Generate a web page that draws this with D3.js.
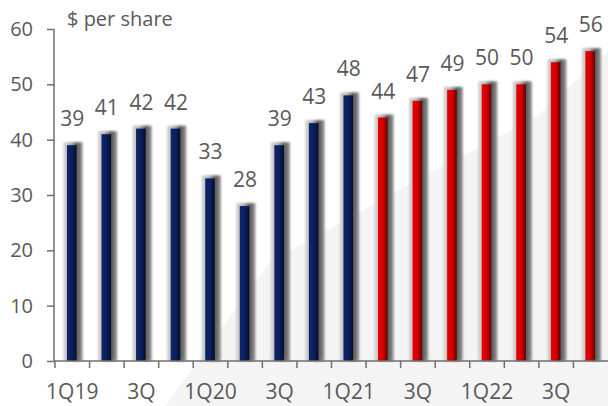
<!DOCTYPE html>
<html>
<head>
<meta charset="utf-8">
<script src="https://cdn.jsdelivr.net/npm/d3@7"></script>
<style>
  html, body { margin: 0; padding: 0; background: #ffffff; }
  svg { display: block; }
  text { font-family: "Open Sans", sans-serif; fill: #595959; }
</style>
</head>
<body>
<div id="chart"></div>
<script>
// Quarterly values, $ per share
const quarters = ["1Q19","2Q19","3Q19","4Q19","1Q20","2Q20","3Q20","4Q20",
                  "1Q21","2Q21","3Q21","4Q21","1Q22","2Q22","3Q22","4Q22"];
const values = [39, 41, 42, 42, 33, 28, 39, 43, 48, 44, 47, 49, 50, 50, 54, 56];
// Bars from this index on are drawn in red
const splitIndex = 9;
// Every other quarter is labelled on the axis
const xTickLabels = { "1Q19": "1Q19", "3Q19": "3Q", "1Q20": "1Q20", "3Q20": "3Q",
                      "1Q21": "1Q21", "3Q21": "3Q", "1Q22": "1Q22", "3Q22": "3Q" };
const yTicks = [0, 10, 20, 30, 40, 50, 60];
const unitLabel = "$ per share";

const W = 608, H = 406;
const margin = { top: 29, right: 0, bottom: 45, left: 55 };

const svg = d3.select("#chart").append("svg")
  .attr("width", W).attr("height", H);

const defs = svg.append("defs");

// soft drop shadow behind each bar
const blur = defs.append("filter").attr("id", "soft")
  .attr("x", "-60%").attr("y", "-10%").attr("width", "220%").attr("height", "120%");
blur.append("feGaussianBlur").attr("stdDeviation", 1.2);

function hGradient(id, stops) {
  const g = defs.append("linearGradient").attr("id", id)
    .attr("x1", "0%").attr("x2", "100%").attr("y1", "0%").attr("y2", "0%");
  stops.forEach(([o, c]) => g.append("stop").attr("offset", o).attr("stop-color", c));
}
hGradient("navyGrad", [["0%", "#0f2668"], ["55%", "#0a1f5c"], ["85%", "#06123a"], ["100%", "#0a0f22"]]);
hGradient("redGrad", [["0%", "#e80000"], ["55%", "#d00000"], ["85%", "#8a0000"], ["100%", "#4a0a0a"]]);
hGradient("shadowGrad", [["0%", "#d4d4d4"], ["35%", "#b8b8b8"], ["70%", "#555555"], ["100%", "#9a9a9a"]]);

// light backdrop sweeping up to the right
svg.append("path")
  .attr("d", d3.line()([[165, H], [270, 262], [420, 178], [535, 118], [W, 52], [W, H]]) + "Z")
  .attr("fill", "#f4f4f4");

const x = d3.scaleBand()
  .domain(quarters)
  .range([margin.left, W - margin.right])
  .paddingInner(0)
  .paddingOuter(0);

const y = d3.scaleLinear()
  .domain([0, 60])
  .range([H - margin.bottom, margin.top]);

const coreW = x.bandwidth() * 0.28;

const bars = svg.append("g").selectAll("g")
  .data(values.map((v, i) => ({ q: quarters[i], v, i })))
  .join("g");

bars.append("rect")
  .attr("x", d => x(d.q) + x.bandwidth() / 2 - coreW / 2 - 4)
  .attr("width", coreW + 9.5)
  .attr("y", d => y(d.v) - 3)
  .attr("height", d => y(0) - y(d.v) + 3)
  .attr("fill", "url(#shadowGrad)")
  .attr("filter", "url(#soft)");

bars.append("rect")
  .attr("x", d => x(d.q) + x.bandwidth() / 2 - coreW / 2 - 0.5)
  .attr("width", coreW)
  .attr("y", d => y(d.v))
  .attr("height", d => y(0) - y(d.v))
  .attr("fill", d => d.i < splitIndex ? "url(#navyGrad)" : "url(#redGrad)");

// value labels
svg.append("g").selectAll("text")
  .data(values.map((v, i) => ({ q: quarters[i], v })))
  .join("text")
  .attr("x", d => x(d.q) + x.bandwidth() / 2)
  .attr("y", d => y(d.v) - 19)
  .attr("text-anchor", "middle")
  .attr("font-size", 21)
  .text(d => d.v);

// axes
const axisColor = "#6f6f6f";

const yAxis = svg.append("g")
  .attr("transform", `translate(${margin.left - 1},0)`)
  .call(d3.axisLeft(y).tickValues(yTicks).tickSize(7).tickPadding(14));
yAxis.select(".domain").attr("stroke", axisColor).attr("stroke-width", 1.5)
  .attr("d", `M0,${y(60)}V${y(0)}`);
yAxis.selectAll(".tick line").attr("stroke", axisColor).attr("stroke-width", 1.5);
yAxis.selectAll(".tick text").attr("font-size", 20).attr("font-family", "Open Sans")
  .attr("fill", "#595959");

const xAxis = svg.append("g")
  .attr("transform", `translate(0,${y(0)})`)
  .call(d3.axisBottom(x).tickSize(0).tickFormat(q => xTickLabels[q] || ""));
xAxis.select(".domain").attr("stroke", axisColor).attr("stroke-width", 1.5)
  .attr("d", `M${margin.left - 1},0H${W}`);
xAxis.selectAll(".tick text").attr("font-size", 21).attr("font-family", "Open Sans")
  .attr("fill", "#595959").attr("dy", 0).attr("y", 38);

// band boundary ticks under the x axis
svg.append("g").selectAll("line")
  .data(quarters)
  .join("line")
  .attr("x1", q => x(q)).attr("x2", q => x(q))
  .attr("y1", y(0)).attr("y2", y(0) + 7)
  .attr("stroke", axisColor).attr("stroke-width", 1.5);

svg.append("text")
  .attr("x", 67).attr("y", 26)
  .attr("font-size", 20)
  .text(unitLabel);
</script>
</body>
</html>
